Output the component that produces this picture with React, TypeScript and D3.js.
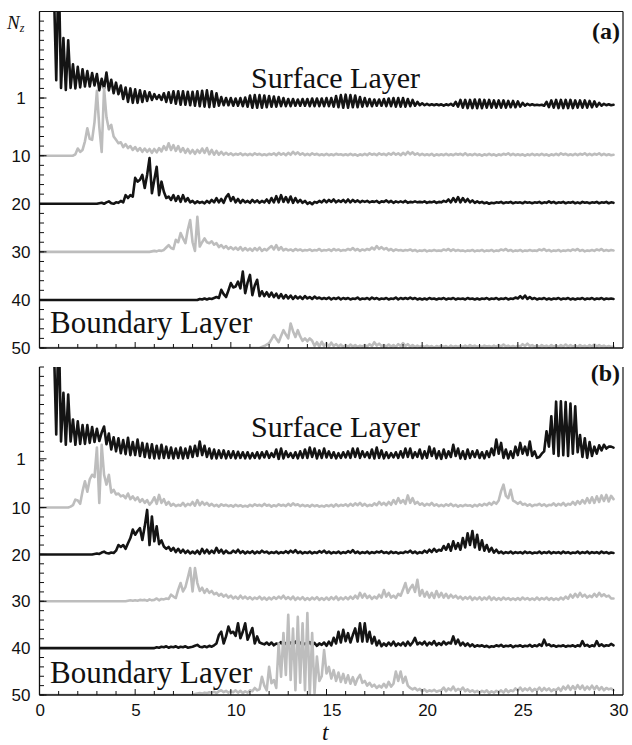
import React from "react";
import * as d3 from "d3";

// sampling step of every trace (time units); values are upward displacement from the trace baseline
const DT = 0.125;

const xTickValues = d3.range(0, 31, 1);
const xLabelValues = [0, 5, 10, 15, 20, 25, 30];
const yTickValues = d3.range(-20, 51, 2);
const yLabelText = ["1", "10", "20", "30", "40", "50"];
const yLabelPosA = [-2, 10, 20, 30, 40, 50];
const yLabelPosB = [-0.4, 10, 20, 30, 40, 50];
const baselines = [0, 10, 20, 30, 40, 50];
const traceColors = ["#141414", "#bdbdbd", "#141414", "#bdbdbd", "#141414", "#bdbdbd"];

// ---------- panel (a) ----------
const startsA = [0, 1.75, 3, 5.75, 8.25, 11.5];
const a1 = [
  30,30,30,30,30,30,25,5.7, 30,4.1,14.5,3.7,14,4.1,9,4, 8.5,4.2,8,4.4,7.6,4.4,7.2,4.6,
  7,3.6,6,4,7.3,3.6,5.8,3, 5.2,2.8,4.6,1.8,4.2,1.2,4,1, 3.8,1,3.6,1.2,3.4,1.4,3.2,1.6,
  2.8,1.8,2.6,1.6,3,1.2,3.2,1, 3.4,0.8,3.4,0.6,3.4,0.6,3.3,0.5, 3.3,0.4,3.4,0.3,3.5,0.2,3.6,0.1,
  3.4,0.2,3,0.4,2.2,0.5,2,0.5, 2,0.4,1.9,0.4,2,0.3,2.1,0.2, 2.5,0,2.6,0,2.6,0,2.5,0.1,
  2.4,0.2,2.3,0.2,2.2,0.3,2,0.3, 1.8,0.3,1.8,0.4,1.7,0.4,1.8,0.4, 1.8,0.3,1.9,0.3,1.9,0.3,1.9,0.3,
  2,0.3,2,0.2,2.4,0.1,2.6,0, 2.7,0,2.6,0.1,2.5,0.1,2.2,0.2, 2,0.3,1.8,0.3,1.7,0.4,1.7,0.4,
  1.8,0.3,1.9,0.3,2,0.2,2,0.2, 2,0.2,1.8,0.3,1.6,0.4,1.2,0.5, 0.9,0.5,0.8,0.5,0.7,0.5,0.7,0.5,
  0.7,0.4,0.7,0.5,0.8,0.4,1.2,0.2, 1.6,0,1.6,-0.1,1.6,-0.1,1.7,-0.1, 1.7,-0.1,1.6,0,1.6,0,1.5,0,
  1.5,0,1.5,0,1.4,0.1,1.4,0.1, 1.3,0.2,1,0.4,0.8,0.5,0.7,0.5, 0.6,0.5,0.6,0.4,1.2,0.1,1.5,0,
  1.6,-0.1,1.6,-0.1,1.6,-0.1,1.6,-0.1, 1.5,0,1.5,0,1.5,0,1.4,0.1, 1.3,0.2,1,0.4,0.8,0.5,0.7,0.5,
  0.6,
];
const a10 = [
  0,0.3, 1.5,0.8,1.2,3,5.7,3.5,3.3,7, 13.5,6,0.8,14,8,5.5,6.4,4, 3.3,2.6,2.8,1.8,2.4,1.6,2,1.2,
  1.8,1,1.6,0.8,1.5,0.8,1.4,0.6, 1.4,0.7,1.6,0.9,2,1.2,2.6,1.2, 2.2,1,2,0.8,1.6,0.6,1.4,0.5,
  1.2,0.4,1.2,0.6,1.5,0.6,1.6,0.3, 1.2,0.2,1,0.2,0.8,0.2,0.6,0.2, 0.5,0.1,0.4,0.2,0.5,0.1,0.4,0.1,
  0.4,0.1,0.5,0.2,0.4,0.1,0.3,0.1, 0.4,0.2,0.5,0.1,0.6,0.2,0.5,0.1, 0.6,0.2,0.8,0.3,0.7,0.2,0.5,0.1,
  0.4,0.1,0.5,0.2,0.4,0.1,0.3,0.1, 0.4,0.1,0.3,0.1,0.4,0.2,0.3,0.1, 0.3,0.1,0.4,0.1,0.3,0,0.3,0.1,
  0.4,0.1,0.5,0.2,0.4,0.1,0.5,0.2, 0.4,0.1,0.5,0.2,0.6,0.2,0.5,0.1, 0.6,0.2,0.8,0.3,0.7,0.2,0.5,0.1,
  0.4,0.1,0.3,0.1,0.4,0,0.3,0.1, 0.3,0.1,0.4,0.1,0.3,0.1,0.4,0.2, 0.4,0.1,0.5,0.1,0.3,0.1,0.4,0.1,
  0.3,0,0.3,0.1,0.4,0.1,0.3,0, 0.3,0.1,0.4,0.2,0.5,0.1,0.4,0.1, 0.3,0.1,0.3,0,0.3,0.1,0.4,0.1,
  0.3,0.1,0.4,0.1,0.3,0,0.3,0.1, 0.4,0.1,0.5,0.2,0.4,0.1,0.3,0.1, 0.4,0.1,0.4,0.2,0.5,0.1,0.4,0.1,
  0.4,0.2,0.5,0.1,0.4,0.1,0.3,0.1, 0.2,
];
const a20 = [
  0,0.1,0.2,0,0.3,0.5,0.1,0, 0.3,0.2,0.6,0.3,1.8,1.2,1.8,1.5, 5.4,4.6,5,6,3.3,6,9.5,2.2,
  5,7.7,1.8,4.6,2.5,1.2,1.5,0.8, 1.8,0.6,1.6,0.4,1.8,0.5,1.2,0.3, 0.6,0.1,0.5,0.2,0.4,0.1,0.6,0.2,
  0.8,0.3,1.2,0.3,1,0.2,1.4,2, 0.6,1.4,0.3,1,0.2,0.8,0.3,0.6, 0.2,0.8,0.3,0.7,0.2,0.6,0.3,0.9,
  0.2,1.2,0.3,1.6,0.3,1.8,0.4,1.4, 0.3,1.5,0.2,1.2,0.3,0.8,0.2,0.6, 0,0.3,-0.1,0.4,0.2,0.6,0.3,0.8,
  0.3,0.8,0.4,0.9,0.3,0.7,0.4,0.8, 0.3,0.9,0.3,0.8,0.4,0.7,0.3,0.6, 0.4,0.6,0.3,0.5,0.4,0.6,0.2,0.5,
  0.4,0.7,0.3,0.6,0.2,0.5,0.3,0.5, 0.3,0.6,0.2,0.4,0.3,0.5,0.3,0.4, 0.3,0.5,0.2,0.4,0.3,0.5,0.2,0.4,
  0.3,0.6,0.4,0.9,0.3,1.2,0.4,1.4, 0.3,1.2,0.4,1,0.3,0.7,0.2,0.5, 0.2,0.4,0.1,0.3,0,0.2,0.1,0.3,
  0.2,0.4,0.1,0.3,0.2,0.4,0.1,0.3, 0.2,0.3,0.1,0.4,0.2,0.3,0.1,0.3, 0.2,0.4,0.1,0.3,0.2,0.5,0.2,0.4,
  0.1,0.3,0.2,0.4,0.1,0.3,0.2,0.4, 0.1,0.3,0.1,0.4,0.2,0.3,0.1,0.3, 0.2,0.4,0.1,0.3,0.2,0.4,0.1,0.3,
  0.2,
];
const a30 = [
  0,0.1, 0.2,0.1,0.3,0.2,0.4,0.9,1.4,0.8, 0.6,2.5,2,3.9,2.8,1.8,4.6,6.6, 2,0.2,7.3,1.1,2,2.8,2,1.8,
  2.2,1.5,1.8,1,1.4,0.8,1.2,0.6, 1,0.5,0.9,0.4,1,0.3,0.8,0.3, 0.7,0.2,0.8,0.3,0.9,0.2,0.6,0.3,
  0.8,1.2,0.5,1.4,0.4,1,0.3,0.6, 0.3,0.5,0.2,0.6,0.3,0.5,0.2,0.4, 0.3,0.5,0.2,0.4,0.3,0.6,0.2,0.4,
  0.3,0.5,0.2,0.6,0.3,0.5,0.2,0.4, 0.3,0.6,0.4,0.8,0.3,0.6,0.2,0.5, 0.3,0.6,0.4,0.9,0.5,1.2,0.6,1,
  0.5,0.8,0.3,0.6,0.2,0.5,0.3,0.4, 0.2,0.4,0.3,0.5,0.2,0.4,0.1,0.3, 0.2,0.4,0.1,0.3,0.2,0.4,0.2,0.3,
  0.2,0.5,0.3,0.6,0.2,0.5,0.2,0.4, 0.2,0.3,0.1,0.3,0.2,0.4,0.1,0.3, 0.2,0.4,0.1,0.3,0.2,0.4,0.1,0.3,
  0.2,0.5,0.3,0.6,0.2,0.4,0.1,0.3, 0.2,0.4,0.1,0.3,0.2,0.4,0.2,0.3, 0.2,0.5,0.3,0.6,0.2,0.4,0.1,0.3,
  0.2,0.4,0.1,0.3,0.2,0.4,0.2,0.5, 0.3,0.6,0.2,0.4,0.1,0.3,0.2,0.4, 0.2,0.5,0.3,0.6,0.2,0.4,0.2,0.4,
  0.3,
];
const a40 = [
  0,0.2,0.1,0.3,0.1,0.3, 0.2,0.4,0.6,0.4,2.1,1.2,0.6,2, 3.5,2.6,2.8,3.8,2.4,5.9,1.4,3.6,
  5.2,1,3,4.2,0.8,1.8,0.8,1.6, 0.7,1.5,0.6,1.3,0.4,1.2,0.3,1, 0.3,0.9,0.2,0.8,0.3,0.7,0.2,0.8,
  0.3,0.6,0.2,0.7,0.3,0.5,0.2,0.4, 0.2,0.5,0.1,0.4,0.2,0.5,0.1,0.4, 0.2,0.4,0.1,0.3,0.2,0.5,0.1,0.3,
  0.2,0.4,0.1,0.5,0.2,0.4,0.1,0.3, 0.2,0.4,0.1,0.3,0.2,0.5,0.1,0.4, 0.2,0.4,0.2,0.5,0.2,0.4,0.1,0.3,
  0.1,0.3,0.1,0.4,0.2,0.3,0.1,0.3, 0.2,0.4,0.1,0.3,0.2,0.4,0.1,0.3, 0.2,0.3,0.1,0.4,0.2,0.3,0.1,0.3,
  0.1,0.3,0.2,0.4,0.1,0.3,0.2,0.4, 0.1,0.3,0.2,0.4,0.1,0.3,0.2,0.5, 0.3,0.8,0.3,0.9,0.2,0.6,0.2,0.4,
  0.1,0.3,0.2,0.4,0.1,0.3,0.1,0.3, 0.2,0.4,0.1,0.3,0.2,0.4,0.1,0.3, 0.1,0.3,0.2,0.4,0.1,0.3,0.2,0.4,
  0.1,0.3,0.2,0.4,0.1,0.3,0.2,0.3, 0.2,
];
const a50 = [
  0,0.2,0.4,0.7, 1,1.8,2.7,1.9,1.2,2.5,3.7,2.8, 2,5.1,3.5,2.3,3.7,2.4,1.5,2, 1.4,2,1.5,0.4,1.2,0.3,1.3,0.4,
  1,0.3,1.1,0.4,0.8,0.3,0.7,0.2, 0.6,0.2,0.7,0.3,0.6,0.2,0.5,0.3, 0.6,0.3,0.8,0.4,1.2,0.5,0.9,0.4,
  0.6,0.3,0.7,0.3,0.6,0.2,0.8,0.4, 1,0.4,0.8,0.3,0.6,0.2,0.5,0.2, 0.4,0.2,0.5,0.2,0.4,0.1,0.4,0.2,
  0.5,0.2,0.4,0.1,0.5,0.2,0.4,0.2, 0.4,0.2,0.5,0.2,0.6,0.3,0.5,0.2, 0.4,0.2,0.5,0.3,0.4,0.2,0.5,0.2,
  0.6,0.3,0.7,0.3,0.5,0.2,0.4,0.2, 0.5,0.3,0.8,0.4,0.9,0.4,0.6,0.3, 0.5,0.2,0.6,0.3,0.5,0.2,0.6,0.3,
  0.5,0.2,0.6,0.3,0.7,0.3,0.6,0.3, 0.5,0.2,0.6,0.3,0.5,0.2,0.6,0.3, 0.7,0.3,0.6,0.3,0.5,0.2,0.4,0.2,
  0.3,
];

// ---------- panel (b) ----------
const startsB = [0, 1.5, 2.75, 4.5, 6, 8];
const b1 = [
  30,30,30,30,30,30,25,5.6, 30,4.1,14.5,3.4,14.1,4.1,8.8,3.4, 8.4,3.6,7.6,3.6,7.6,3.8,7.2,4,
  6.8,4.2,6,7.3,3.5,5.8,2.4,5, 2,4.8,1.6,4.4,1.4,4.9,1.2,4, 1.2,4.5,1,3.8,0.8,3.6,0.6,3.5,
  0.5,3.2,0.5,3.4,0.6,3,0.6,2.8, 0.5,2.6,0.6,2.8,0.5,2.6,0.6,3, 0.8,3.2,1,4.1,1.2,3.2,0.8,2.6,
  0.5,2.4,0.5,2.2,0.6,2.2,0.5,2, 0.6,2,0.5,1.9,0.6,1.8,0.5,1.8, 0.5,1.6,0.6,1.8,0.5,1.8,0.7,2,
  0.6,1.6,0.8,2.4,0.4,2.6,0.5,2, 0.8,1.6,0.6,1.8,0.5,2,0.6,2.4, 0.6,2.8,0.8,2.6,0.5,2.2,0.6,2.6,
  0.7,2,0.6,1.8,0.5,1.6,0.6,1.8, 0.7,2,0.6,2.6,0.8,2.6,0.6,2, 0.8,1.8,0.6,2.4,0.5,2.8,0.6,2.2,
  0.5,1.8,0.6,1.6,0.7,1.8,0.6,2, 0.7,2.6,0.8,2.6,0.6,1.8,0.8,2.4, 0.5,2,0.6,3,1,2.6,0.5,2,
  0.4,2.4,0.6,2,0.8,3.4,1,2.6, 0.5,2,0.4,2.4,0.6,2,0.8,2.2, 0.6,1.8,0.5,2,0.8,2.6,1.2,4.5,
  1.5,3.8,0.6,2.4,0.5,2,0.6,3, 1.2,3.8,1.5,3,1.2,4.1,1,2, 0.6,0.8,1.5,2,6.3,3,9.5,1.5,
  12.6,1,12.7,1.2,12.5,1,12.2,1.5, 11.6,1.8,5.5,0.8,4.8,0.6,4,1, 3,1.5,3.3,2.2,3.4,2.6,3,3,
  2.8,
];
const b10 = [
  0,0.2,0.5,1.7, 1.5,0.8,3.5,5.6,3.4,6,7,6.5, 12.8,1,13.4,7,4.9,7,3.2,3.8, 2.8,3,2.4,2.6,2,3,1.8,2.4,
  1.6,2.2,1.2,1.8,1,1.6,0.6,1.2, 2.2,0.8,2.7,1,1.8,0.6,1.2,0.4, 0.8,0.3,0.6,0.4,1,0.3,0.8,0.5,
  1.2,0.4,1.6,0.5,1.2,0.6,1,0.4, 0.8,0.3,0.6,0.2,0.7,0.4,0.6,0.3, 0.5,0.2,0.6,0.3,0.5,0.2,0.4,0.2,
  0.6,0.3,0.7,0.4,0.6,0.3,0.8,0.4, 0.6,0.2,0.5,0.3,0.7,0.4,0.6,0.3, 0.8,0.4,0.9,0.5,0.7,0.3,0.6,0.3,
  0.5,0.2,0.6,0.3,0.5,0.2,0.4,0.2, 0.5,0.3,0.6,0.2,0.7,0.3,0.6,0.4, 0.7,0.3,0.8,0.4,0.9,0.5,1,0.4,
  0.8,0.3,0.6,0.4,0.9,0.5,1.2,0.6, 1,0.5,1.2,0.6,1.6,0.8,2,1, 1.6,0.8,2.6,1,2,0.8,1.2,0.6,
  0.9,0.4,0.8,0.5,1,0.4,0.7,0.3, 0.6,0.3,0.7,0.4,0.8,0.3,0.6,0.2, 0.5,0.3,0.6,0.4,0.5,0.2,0.6,0.3,
  0.7,0.4,0.8,0.5,1,0.6,1.2,0.8, 1.5,3.5,4.9,2.5,2,3.8,1.5,1.2, 0.8,1.2,0.6,0.8,0.4,0.7,0.3,0.6,
  0.5,0.8,0.4,0.7,0.3,0.6,0.5,0.9, 0.4,0.8,0.5,1,0.4,0.8,0.6,1.2, 0.6,1.4,0.8,1.6,0.9,2,1,2.2,
  1,2.4,1.2,2.6,1.4,2.7,1.3,2.5, 1.8,
];
const b20 = [
  0,0.1, 0.2,0.1,0.4,0.6,0.3,0.2,0.4,0.3, 0.8,2,1.6,2,1.2,2.4,3.5,5.3, 4.2,5,5.6,3.1,6,9.5,2,8.1,
  2.8,6,2.2,3,1.7,1.2,1.6,0.8, 1.4,0.5,1.2,0.4,1,0.3,0.8,0.2, 0.6,0.2,0.8,0.1,1.2,0.3,1,0.2,
  0.8,0.3,1.4,0.4,1,0.2,0.8,0.3, 0.3,0.8,0.4,1,0.3,0.7,0.2,0.6, 0.3,0.7,0.2,0.6,0.3,0.8,0.4,0.6,
  0.2,0.5,0.3,0.6,0.2,0.5,0.3,0.7, 0.3,0.8,0.4,0.9,0.3,0.6,0.2,0.5, 0.3,0.6,0.2,0.5,0.3,0.7,0.4,0.8,
  0.3,0.6,0.2,0.5,0.3,0.6,0.2,0.5, 0.3,0.7,0.4,0.9,0.3,0.6,0.2,0.5, 0.3,0.6,0.2,0.5,0.3,0.6,0.4,0.7,
  0.3,0.5,0.2,0.6,0.3,0.5,0.2,0.4, 0.3,0.6,0.4,0.8,0.3,0.6,0.2,0.5, 0.3,0.8,0.4,1,0.5,1.2,0.6,1,
  0.8,1.8,1,2.2,0.8,2.8,1.2,2.4, 1,3.5,1.5,4.5,2,5,1.5,4.2, 1,3,0.8,2,0.6,1.4,0.4,1,
  0.3,0.6,0.2,0.5,0.3,0.6,0.2,0.5, 0.3,0.5,0.2,0.6,0.3,0.5,0.2,0.4, 0.3,0.6,0.2,0.5,0.3,0.6,0.2,0.5,
  0.3,0.5,0.2,0.6,0.3,0.5,0.2,0.4, 0.3,0.6,0.2,0.5,0.3,0.6,0.2,0.5, 0.3,0.5,0.2,0.6,0.3,0.5,0.2,0.4,
  0.3,
];
const b30 = [
  0,0.1,0.2,0.1, 0.2,0.1,0.3,0.2,0.3,0.1,0.4,0.2, 0.3,0.6,0.2,0.5,0.4,0.6,0.5,1.4, 1,0.7,2.5,3.9,2.1,3,5,7.1,
  2.1,7.1,3.9,2.2,2.9,1.8,2.6,1.8, 2.2,1.5,1.8,1.2,1.6,1,1.4,0.8, 1.2,0.6,1,0.5,1.2,0.6,1,0.5,
  0.9,0.4,0.8,0.5,1,0.4,0.8,0.3, 0.8,0.4,0.9,0.5,1,0.6,1.2,0.5, 0.9,0.4,1,0.3,0.8,0.4,0.9,0.3,
  0.7,0.3,0.8,0.4,0.9,0.3,0.7,0.3, 0.8,0.3,0.9,0.4,1,0.3,0.8,0.4, 0.9,0.4,1,0.5,1.2,0.6,1.8,0.8,
  1.6,0.7,1.2,0.5,1,0.6,1.4,0.8, 2.4,1,1.8,0.8,1.2,0.7,1.6,1.2, 2.5,3.9,1.8,2.8,3.5,2,4.6,1.2,
  2.4,1,2,0.8,1.8,0.7,2.2,0.9, 1.8,0.8,1.6,0.7,1.4,0.8,1.2,0.6, 1,0.4,0.9,0.5,1,0.3,0.8,0.4,
  0.9,0.3,0.8,0.4,1,0.3,0.8,0.3, 0.7,0.3,0.8,0.4,0.7,0.3,0.6,0.3, 0.7,0.3,0.8,0.4,0.7,0.3,0.6,0.3,
  0.8,0.3,0.7,0.4,0.8,0.3,0.7,0.3, 0.6,0.3,0.8,0.4,1,0.5,1.4,0.8, 1.6,0.9,1.8,1,1.4,0.8,1.2,0.9,
  1.6,1,1.8,1.1,1.5,1,1.2,0.6, 0.6,
];
const b40 = [
  0,0.2,0.1,0.3,0.2,0.4,0.1,0.3, 0.2,0.4,0.1,0.3,0.2,0.4,0.1,0.2, 0.3,0.5,0.7,0.3,0.2,0.4,0.2,0.5,
  0.3,0.6,1,2.8,3.5,1,2.5,4.6, 3.2,3.5,2.6,5.3,2.1,3.5,5.3,1.8, 3,4.3,1,2.5,1.2,1,0.8,1.2,
  0.7,1.2,0.6,1,0.8,1.3,0.6,1.1, 0.7,1.2,0.6,1.4,0.8,1.2,0.6,1, 0.7,1.3,0.6,1.1,0.5,1,0.7,1.2,
  0.5,1.4,0.6,2.2,1,3.5,1.2,3.9, 1.5,3.2,1.2,2.8,4.2,1.4,5.3,1.4, 5.3,1.4,3.5,1,2.4,0.6,1.6,0.4,
  1,0.5,1.2,0.6,1.4,0.5,1,0.6, 1.2,0.5,1.4,0.6,1.2,2.2,0.8,1.2, 0.8,1.4,0.6,1.2,0.8,1.5,0.6,1.1,
  0.7,1.4,0.8,1.2,1,2.5,0.9,1.8, 0.6,1.2,0.5,1,0.4,0.8,0.3,0.6, 0.4,0.6,0.3,0.5,0.2,0.4,0.3,0.6,
  0.4,0.7,0.3,0.5,0.4,0.6,0.2,0.5, 0.4,0.6,0.3,0.5,0.4,0.7,0.3,0.6, 0.4,0.8,0.5,1.8,0.6,0.8,0.4,0.6,
  0.3,0.5,0.4,0.6,0.3,0.5,0.4,0.6, 0.3,0.6,0.4,1.5,0.5,0.7,0.3,0.6, 0.4,1.5,0.5,0.8,0.4,0.6,0.5,0.9,
  0.6,
];
const b50 = [
  0,0.2,0.3,0.4,0.3,0.5,0.4,0.6, 0.5,0.7,0.4,0.8,1,0.6,0.9,0.5, 0.8,0.6,1,0.5,0.9,0.4,0.8,0.5,
  1,0.8,1.5,1,1.2,3.9,2,1, 6,2.5,3.2,1.5,11,3.9,13.2,4.3, 17.1,3.2,14.2,1,16.7,2.6,15.3,1,
  17.5,0,13.2,0.4,8.2,3,4,9.6, 4.6,6,3.5,5.3,3,4.8,2.8,4.5, 2.6,4.2,2.4,3.8,2.2,3.5,4.3,2.6,
  3,2,2.6,1.8,2.2,1.5,2,1.6, 2.4,1.6,2.8,1.8,2.4,5,3,5, 2.6,3.9,2,1.5,1.2,1.5,1,1.3,
  0.8,1.2,0.7,1,0.8,1.1,0.7,0.9, 1,1.6,0.8,1.4,1,1.8,0.9,1.3, 1,1.6,0.8,1.2,0.7,1,0.6,0.9,
  0.5,0.9,0.6,1,0.4,0.8,0.5,0.9, 0.6,1,0.5,1.2,0.6,1,0.8,1.4, 1,1.6,0.9,1.4,1,1.5,0.8,1.3,
  1,1.6,0.9,1.5,1,1.4,0.8,1.2, 1,1.5,0.9,1.8,1.2,2,1.1,1.9, 1.2,2.1,1.3,2,1.1,1.8,1.2,2,
  1.2,1.9,1.1,1.7,1,1.5,1.2,1.4, 1,
];

const tracesA = [a1, a10, a20, a30, a40, a50];
const tracesB = [b1, b10, b20, b30, b40, b50];

const W = 632;
const H = 745;
const X0 = 39.5;
const X1 = 613.5;
const RIGHT = 623;

type PanelProps = {
  id: string;
  top: number;
  bottom: number;
  traces: number[][];
  starts: number[];
  labelPos: number[];
  tag: string;
  tagY: number;
  surfaceY: number;
  boundaryY: number;
  showXLabels: boolean;
  drawTop: boolean;
};

function toPoints(values: number[], start: number, base: number): [number, number][] {
  const pts: [number, number][] = [];
  if (start > 0) pts.push([0, base]);
  values.forEach((d, i) => {
    const t = start + i * DT;
    if (t <= 30.0001) pts.push([t, base - d]);
  });
  return pts;
}

function Panel(p: PanelProps) {
  const x = d3.scaleLinear().domain([0, 30]).range([X0, X1]);
  const y = d3.scaleLinear().domain([-20, 50]).range([p.top, p.bottom]);
  const line = d3
    .line<[number, number]>()
    .x((d) => x(d[0]))
    .y((d) => y(d[1]));
  const clipId = `clip-${p.id}`;
  return (
    <g>
      <defs>
        <clipPath id={clipId}>
          <rect x={X0} y={p.top} width={RIGHT - X0} height={p.bottom - p.top} />
        </clipPath>
      </defs>
      <g clipPath={`url(#${clipId})`}>
        {p.traces.map((vals, k) => (
          <path
            key={k}
            d={line(toPoints(vals, p.starts[k], baselines[k])) || ""}
            fill="none"
            stroke={traceColors[k]}
            strokeWidth={2.6}
            strokeLinejoin="round"
            strokeLinecap="round"
          />
        ))}
      </g>
      {/* frame */}
      <line x1={X0} x2={X0} y1={p.top} y2={p.bottom} stroke="#111" strokeWidth={1.3} />
      <line x1={X0} x2={RIGHT} y1={p.bottom} y2={p.bottom} stroke="#111" strokeWidth={1.4} />
      {p.drawTop && <line x1={X0} x2={RIGHT} y1={p.top} y2={p.top} stroke="#111" strokeWidth={1.2} />}
      <line x1={RIGHT} x2={RIGHT} y1={p.top} y2={p.bottom} stroke="#111" strokeWidth={1.2} />
      {/* y ticks */}
      {yTickValues.map((v) => (
        <line key={v} x1={X0} x2={X0 + 4.5} y1={y(v)} y2={y(v)} stroke="#111" strokeWidth={1} />
      ))}
      {p.labelPos.map((v, i) => (
        <g key={i}>
          <line x1={X0} x2={X0 + 7} y1={y(v)} y2={y(v)} stroke="#111" strokeWidth={1} />
          <text
            x={21}
            y={y(v)}
            dy="0.36em"
            textAnchor="middle"
            fontFamily="'Liberation Sans', Arial, sans-serif"
            fontSize={17}
            fill="#111"
          >
            {yLabelText[i]}
          </text>
        </g>
      ))}
      {/* x ticks */}
      {xTickValues.map((t) => (
        <line
          key={t}
          x1={x(t)}
          x2={x(t)}
          y1={p.bottom}
          y2={p.bottom - (t % 5 === 0 ? 6 : 4)}
          stroke="#111"
          strokeWidth={1}
        />
      ))}
      {p.showXLabels &&
        xLabelValues.map((t) => (
          <text
            key={t}
            x={x(t) - 4}
            y={p.bottom + 20.5}
            textAnchor="start"
            fontFamily="'Liberation Sans', Arial, sans-serif"
            fontSize={17}
            fill="#111"
          >
            {t}
          </text>
        ))}
      <text
        x={620}
        y={p.tagY}
        textAnchor="end"
        fontFamily="'Liberation Serif', 'Times New Roman', serif"
        fontWeight="bold"
        fontSize={24}
        fill="#111"
      >
        {p.tag}
      </text>
      <text
        x={251}
        y={p.surfaceY}
        fontFamily="'Liberation Serif', 'Times New Roman', serif"
        fontSize={30}
        fill="#111"
      >
        Surface Layer
      </text>
      <text
        x={50}
        y={p.boundaryY}
        fontFamily="'Liberation Serif', 'Times New Roman', serif"
        fontSize={31}
        fill="#111"
      >
        Boundary Layer
      </text>
    </g>
  );
}

export default function App() {
  return (
    <svg
      width={W}
      height={H}
      viewBox={`0 0 ${W} ${H}`}
      style={{ position: "absolute", left: 0, top: 0, background: "#fff" }}
    >
      <rect x={0} y={0} width={W} height={H} fill="#fff" />
      <Panel
        id="a"
        top={11.5}
        bottom={348}
        traces={tracesA}
        starts={startsA}
        labelPos={yLabelPosA}
        tag="(a)"
        tagY={39}
        surfaceY={88}
        boundaryY={333}
        showXLabels={false}
        drawTop={true}
      />
      <Panel
        id="b"
        top={367}
        bottom={695}
        traces={tracesB}
        starts={startsB}
        labelPos={yLabelPosB}
        tag="(b)"
        tagY={381}
        surfaceY={437}
        boundaryY={683}
        showXLabels={true}
        drawTop={false}
      />
      <text x={7} y={29} fontFamily="'Liberation Serif', 'Times New Roman', serif" fontStyle="italic" fontSize={19} fill="#111">
        N
        <tspan dy={3} fontSize={12}>z</tspan>
      </text>
      <text
        x={322}
        y={739.5}
        fontFamily="'Liberation Serif', 'Times New Roman', serif"
        fontStyle="italic"
        fontSize={23.5}
        fill="#111"
      >
        t
      </text>
    </svg>
  );
}
